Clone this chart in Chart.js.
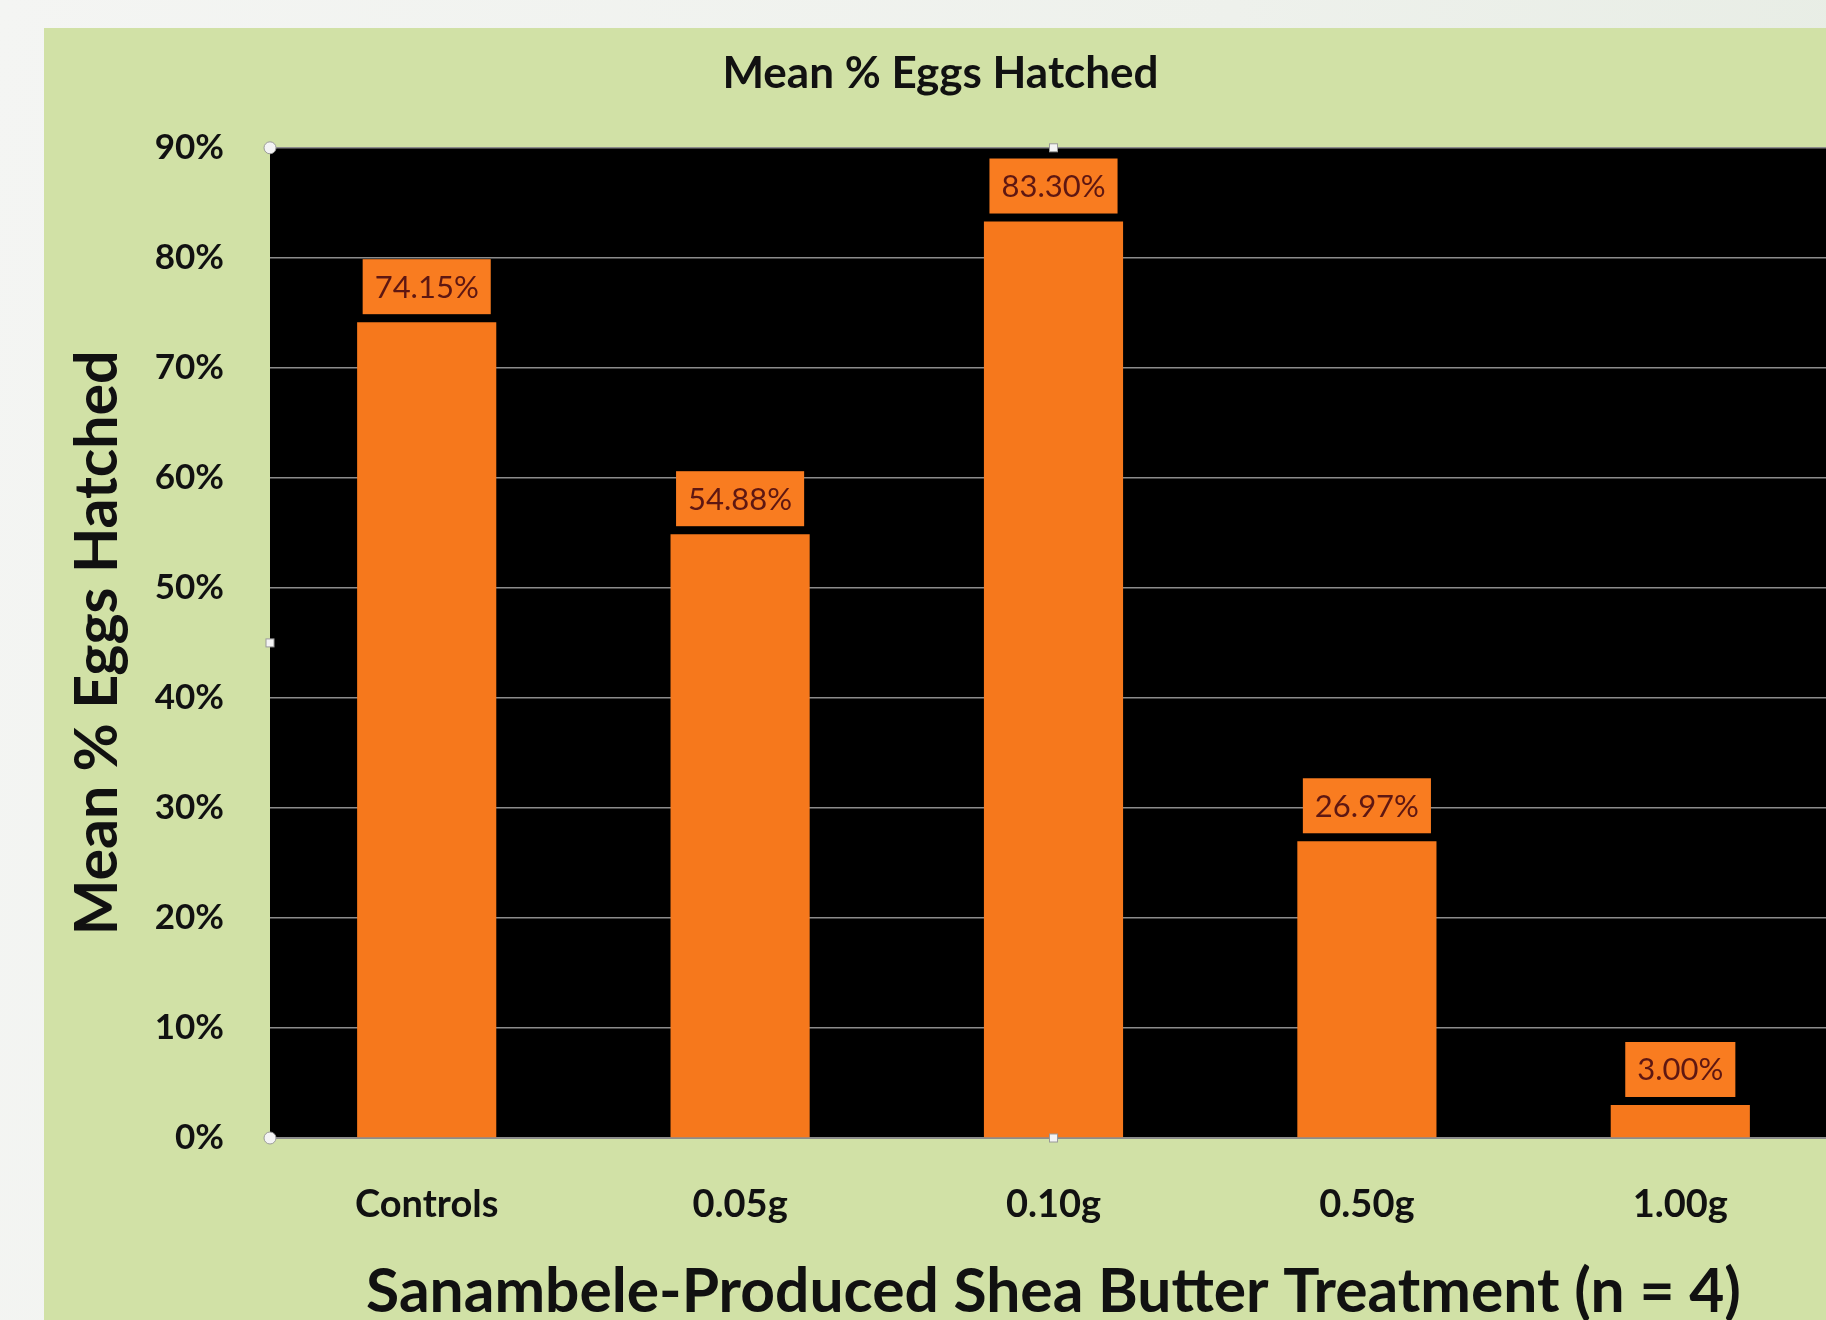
<!DOCTYPE html>
<html>
<head>
<meta charset="utf-8">
<script src="https://cdn.jsdelivr.net/npm/chart.js@4.4.0/dist/chart.umd.min.js"></script>
<style>
  html, body { margin: 0; padding: 0; width: 1826px; height: 1320px; overflow: hidden; }
  body { background: linear-gradient(100deg, #f4f5f3 0%, #eef1ec 60%, #e6ece3 100%); position: relative; }
  #panel { position: absolute; left: 44px; top: 28px; width: 1800px; height: 1320px; background: #d1e1a6; }
  #chart { display: block; }
</style>
</head>
<body>
<div id="panel"><canvas id="chart" width="1800" height="1320"></canvas></div>
<script>
var categories = ["Controls", "0.05g", "0.10g", "0.50g", "1.00g"];
var meanHatched = [74.15, 54.88, 83.30, 26.97, 3.00];
var yMin = 0, yMax = 90, yStep = 10;

var FONT = "Lato, 'Open Sans', sans-serif";
var barColor = "#f6781c";

// black plot area
var plotBg = {
  id: "plotBg",
  beforeDraw: function(chart) {
    var a = chart.chartArea, ctx = chart.ctx;
    ctx.save();
    ctx.fillStyle = "#000";
    ctx.fillRect(a.left, a.top, a.right - a.left, a.bottom - a.top);
    ctx.restore();
  }
};

// orange value boxes above each bar
var valueBoxes = {
  id: "valueBoxes",
  afterDatasetsDraw: function(chart) {
    var ctx = chart.ctx;
    var meta = chart.getDatasetMeta(0);
    ctx.save();
    ctx.font = "31px " + FONT;
    ctx.textAlign = "center";
    ctx.textBaseline = "middle";
    meta.data.forEach(function(bar, i) {
      var txt = meanHatched[i].toFixed(2) + "%";
      var w = ctx.measureText(txt).width + 24;
      var h = 55;
      var bottom = bar.y - 8;
      ctx.fillStyle = "#f97c20";
      ctx.fillRect(bar.x - w / 2, bottom - h, w, h);
      ctx.fillStyle = "#5e1712";
      ctx.fillText(txt, bar.x, bottom - h / 2 + 1);
    });
    ctx.restore();
  }
};

// little selection handles on the plot edges
var handles = {
  id: "handles",
  afterDraw: function(chart) {
    var a = chart.chartArea, ctx = chart.ctx;
    var mx = (a.left + a.right) / 2, my = (a.top + a.bottom) / 2;
    ctx.save();
    ctx.fillStyle = "#f4f4f4";
    ctx.strokeStyle = "#9a9a9a";
    ctx.lineWidth = 1;
    [[a.left, a.top], [a.left, a.bottom]].forEach(function(p) {
      ctx.beginPath();
      ctx.arc(p[0], p[1], 6, 0, Math.PI * 2);
      ctx.fill();
      ctx.stroke();
    });
    [[mx, a.top], [mx, a.bottom], [a.left, my]].forEach(function(p) {
      ctx.fillRect(p[0] - 4, p[1] - 4, 8, 8);
      ctx.strokeRect(p[0] - 4, p[1] - 4, 8, 8);
    });
    ctx.restore();
  }
};

var ctx = document.getElementById("chart").getContext("2d");
window.bars = new Chart(ctx, {
  type: "bar",
  data: {
    labels: categories,
    datasets: [{
      data: meanHatched,
      backgroundColor: barColor,
      borderWidth: 0,
      categoryPercentage: 1,
      barPercentage: 0.444
    }]
  },
  options: {
    responsive: false,
    animation: false,
    layout: { padding: { left: 0, right: 7, top: 0, bottom: 0 } },
    plugins: {
      legend: { display: false },
      tooltip: { enabled: false },
      title: {
        display: true,
        text: "Mean % Eggs Hatched",
        color: "#111",
        font: { family: FONT, size: 44, weight: "bold" },
        padding: { top: 19, bottom: 48 }
      }
    },
    scales: {
      x: {
        grid: { display: false, drawTicks: false },
        border: { display: true, color: "#8c8c8c", width: 2 },
        ticks: {
          color: "#111",
          padding: 44,
          font: { family: FONT, size: 38, weight: "bold" }
        },
        title: {
          display: true,
          text: "Sanambele-Produced Shea Butter Treatment (n = 4)",
          color: "#111",
          font: { family: FONT, size: 60.5, weight: "bold" },
          padding: { top: 0, bottom: 19 }
        },
        afterFit: function(s) { s.height = 210; }
      },
      y: {
        min: yMin,
        max: yMax,
        ticks: {
          stepSize: yStep,
          color: "#111",
          padding: 46,
          font: { family: FONT, size: 35, weight: "bold" },
          callback: function(v) { return v + "%"; }
        },
        grid: { color: "#8c8c8c", lineWidth: 1.5, drawTicks: false },
        border: { display: false },
        title: {
          display: true,
          text: "Mean % Eggs Hatched",
          color: "#111",
          font: { family: FONT, size: 59, weight: "bold" },
          padding: { top: 19, bottom: 0 }
        },
        afterFit: function(s) { s.width = 226; }
      }
    }
  },
  plugins: [plotBg, valueBoxes, handles]
});
</script>
</body>
</html>
